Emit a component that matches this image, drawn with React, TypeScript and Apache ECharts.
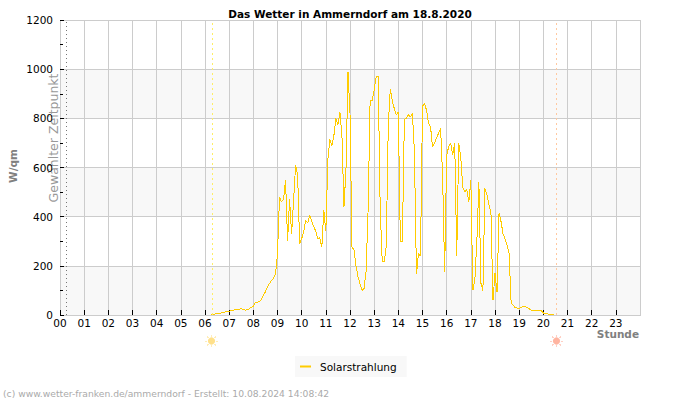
import React, { useEffect, useRef } from "react";
import * as echarts from "echarts";

const titleText = "Das Wetter in Ammerndorf am 18.8.2020";
const footerText = "(c) www.wetter-franken.de/ammerndorf - Erstellt: 10.08.2024 14:08:42";
const seriesName = "Solarstrahlung";
const startMinute = 375;
const stepMinutes = 5;
const hour06 = [0, 3, 4, 5, 6, 8, 9, 12, 14];
const hour07 = [15, 18, 20, 21, 22, 23, 26, 22, 20, 22, 25, 32];
const hour08 = [34, 50, 52, 55, 62, 80, 95, 115, 128, 140, 150, 165];
const hour09 = [250, 480, 460, 470, 550, 300, 470, 330, 470, 610, 570, 290];
const hour10 = [310, 340, 385, 375, 405, 380, 360, 340, 310, 315, 275, 425];
const hour11 = [340, 630, 715, 690, 730, 800, 773, 827, 730, 440, 590, 990];
const hour12 = [820, 275, 265, 200, 155, 125, 100, 108, 180, 430, 875, 870];
const hour13 = [915, 970, 970, 430, 220, 215, 280, 770, 920, 870, 840, 815];
const hour14 = [825, 300, 300, 795, 800, 815, 805, 820, 660, 165, 250, 240];
const hour15 = [850, 860, 833, 780, 766, 682, 700, 720, 740, 760, 560, 175];
const hour16 = [650, 685, 700, 650, 700, 240, 698, 640, 520, 500, 510, 460];
const hour17 = [550, 100, 145, 300, 540, 130, 100, 515, 490, 450, 413, 60];
const hour18 = [170, 95, 415, 380, 330, 310, 285, 250, 50, 40, 30, 28];
const hour19 = [25, 32, 33, 35, 30, 25, 20, 18, 20, 20, 20, 18];
const hour20 = [8, 8, 5, 3, 2, 0];
const solarValues = [
  ...hour06, ...hour07, ...hour08, ...hour09, ...hour10, ...hour11, ...hour12, ...hour13,
  ...hour14, ...hour15, ...hour16, ...hour17, ...hour18, ...hour19, ...hour20,
];
const chosenHour = 0.24;
const sunriseHour = 6.28;
const sunsetHour = 20.55;
const hourTicks = ["00","01","02","03","04","05","06","07","08","09","10","11","12","13","14","15","16","17","18","19","20","21","22","23"];

const FONT = "DejaVu Sans";

function sun(cx: number, cy: number, color: string, ray: string) {
  const angles = [0, 45, 90, 135, 180, 225, 270, 315];
  return {
    type: "group",
    x: cx,
    y: cy,
    silent: true,
    children: [
      { type: "circle", shape: { cx: 0, cy: 0, r: 3.6 }, style: { fill: color } },
      ...angles.map((a) => {
        const r = (a * Math.PI) / 180;
        return {
          type: "line",
          shape: { x1: 4.2 * Math.cos(r), y1: 4.2 * Math.sin(r), x2: 6.2 * Math.cos(r), y2: 6.2 * Math.sin(r) },
          style: { stroke: ray, lineWidth: 1 },
        };
      }),
    ],
  };
}

export default function App() {
  const ref = useRef<HTMLDivElement>(null);
  useEffect(() => {
    document.body.style.margin = "0";
    const chart = echarts.init(ref.current!, undefined, { renderer: "svg" });
    const points = solarValues.map((v, i) => [(startMinute + i * stepMinutes) / 60, v]);
    chart.setOption({
      animation: false,
      backgroundColor: "#ffffff",
      textStyle: { fontFamily: FONT },
      title: {
        text: titleText,
        left: 345,
        top: 3,
        textAlign: "center",
        textStyle: { fontFamily: FONT, fontSize: 10.5, fontWeight: "bold", color: "#000" },
      },
      grid: { left: 60, top: 20, width: 580, height: 295, show: true, borderColor: "#cccccc", borderWidth: 1, backgroundColor: "transparent" },
      legend: {
        left: 295,
        top: 356,
        padding: [5, 10, 5, 5],
        backgroundColor: "#f8f8f8",
        icon: "rect",
        itemWidth: 11,
        itemHeight: 2,
        itemGap: 5,
        textStyle: { fontFamily: FONT, fontSize: 10.5, color: "#000", padding: [0, 0, 0, 4] },
        data: [seriesName],
      },
      xAxis: {
        type: "value",
        min: 0,
        max: 24,
        interval: 1,
        axisLine: { show: true, lineStyle: { color: "#cccccc" } },
        axisTick: { show: true, inside: true, length: 5, lineStyle: { color: "#000" } },
        axisLabel: {
          show: true,
          margin: 2,
          fontFamily: FONT,
          fontSize: 10.5,
          color: "#000",
          showMaxLabel: false,
          formatter: (v: number) => hourTicks[v] ?? "",
        },
        splitLine: { show: true, lineStyle: { color: "#cccccc", width: 1 } },
      },
      yAxis: {
        type: "value",
        min: 0,
        max: 1200,
        interval: 200,
        axisLine: { show: true, lineStyle: { color: "#cccccc" } },
        axisTick: { show: true, inside: true, length: 4, lineStyle: { color: "#000" } },
        minorTick: { show: true, splitNumber: 2, length: 3, lineStyle: { color: "#000" } },
        axisLabel: { margin: 7, fontFamily: FONT, fontSize: 10.5, color: "#000", formatter: (v: number) => String(v) },
        splitLine: { show: true, lineStyle: { color: "#cccccc", width: 1 } },
        splitArea: { show: true, areaStyle: { color: ["#f8f8f8", "#ffffff"] } },
      },
      series: [
        {
          name: seriesName,
          type: "line",
          data: points,
          showSymbol: false,
          symbol: "none",
          itemStyle: { color: "#ffcc00" },
          lineStyle: { color: "#ffcc00", width: 1 },
          markLine: {
            silent: true,
            symbol: "none",
            animation: false,
            label: { show: false },
            data: [
              { xAxis: chosenHour, lineStyle: { color: "#777777", type: [1, 3], width: 1 } },
              { xAxis: sunriseHour, lineStyle: { color: "#ffee66", type: [2, 3], width: 1 } },
              { xAxis: sunsetHour, lineStyle: { color: "#ffc9a0", type: [2, 3], width: 1 } },
            ],
          },
        },
      ],
      graphic: [
        { type: "text", silent: true, x: 13, y: 166, rotation: Math.PI / 2, style: { text: "W/qm", fontFamily: FONT, fontSize: 10.5, fontWeight: "bold", fill: "#808080", align: "center", verticalAlign: "middle" } },
        { type: "text", silent: true, x: 53, y: 138, rotation: Math.PI / 2, style: { text: "Gewählter Zeitpunkt", fontFamily: FONT, fontSize: 12.5, fill: "#999999", align: "center", verticalAlign: "middle" } },
        { type: "text", silent: true, x: 639, y: 334, style: { text: "Stunde", fontFamily: FONT, fontSize: 10.5, fontWeight: "bold", fill: "#808080", align: "right", verticalAlign: "middle" } },
        { type: "text", silent: true, x: 3, y: 393, style: { text: footerText, fontFamily: FONT, fontSize: 9.2, fill: "#aaaaaa", align: "left", verticalAlign: "middle" } },
        sun(211.5, 341, "#ffe08a", "#ffedb8"),
        sun(556.5, 341, "#ffb4a0", "#ffd0c4"),
      ],
    });
    return () => chart.dispose();
  }, []);
  return (
    <>
      <style>{"svg path[fill='none'] { shape-rendering: crispEdges; }"}</style>
      <div ref={ref} style={{ width: 700, height: 400 }} />
    </>
  );
}
